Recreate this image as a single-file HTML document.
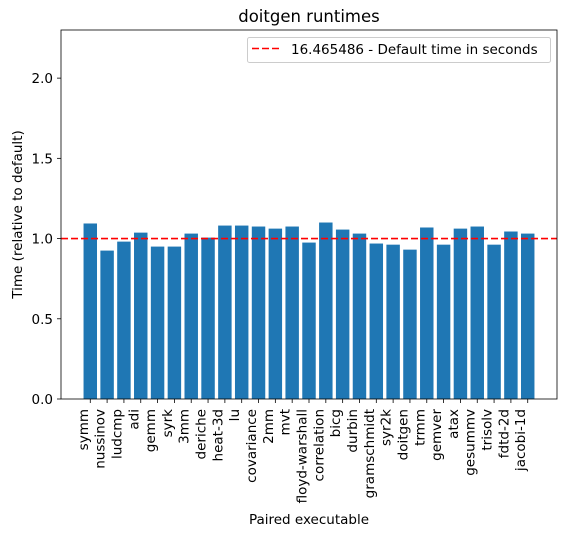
<!DOCTYPE html>
<html><head><meta charset="utf-8"><style>
body{margin:0;background:#fff}
svg text{font-family:"DejaVu Sans","Liberation Sans",sans-serif;fill:#000}
</style></head><body>
<svg id="chart" width="567" height="536" xmlns="http://www.w3.org/2000/svg">
<rect width="567" height="536" fill="#fff"/>
<g id="bars"></g>
<g id="axes"></g>
</svg>
<script>
const categories=["symm","nussinov","ludcmp","adi","gemm","syrk","3mm","deriche","heat-3d","lu","covariance","2mm","mvt","floyd-warshall","correlation","bicg","durbin","gramschmidt","syr2k","doitgen","trmm","gemver","atax","gesummv","trisolv","fdtd-2d","jacobi-1d"];
const values=[1.094,0.925,0.981,1.037,0.95,0.95,1.031,1.006,1.081,1.081,1.075,1.062,1.075,0.975,1.1,1.056,1.031,0.969,0.962,0.931,1.069,0.962,1.062,1.075,0.962,1.044,1.031];
const yTicks=[0.0,0.5,1.0,1.5,2.0];
const yTickLabels=["0.0","0.5","1.0","1.5","2.0"];
const refValue=1.0;
const legendLabel="16.465486 - Default time in seconds";

const NS="http://www.w3.org/2000/svg";
const L=61,R=557,T=30,B=399;
const xMin=-1.74,xMax=categories.length-1+1.74;
const yMax=2.3;
const xs=i=>L+(i-xMin)/(xMax-xMin)*(R-L);
const ys=v=>B-v/yMax*(B-T);
const bw=0.8*(R-L)/(xMax-xMin);
function mk(tag,attrs,parent,text){const e=document.createElementNS(NS,tag);for(const k in attrs)e.setAttribute(k,attrs[k]);if(text!==undefined)e.textContent=text;parent.appendChild(e);return e;}
const bars=document.getElementById('bars'),axes=document.getElementById('axes');
values.forEach((v,i)=>{
 const r=mk('rect',{x:xs(i)-bw/2,y:ys(v),width:bw,height:ys(0)-ys(v),fill:'#1f77b4'},bars);
 
 
 mk('line',{x1:xs(i),x2:xs(i),y1:B,y2:B+4,stroke:'#000','stroke-width':0.8},axes);
 const t=mk('text',{x:0,y:0,'font-size':13.5,'text-anchor':'end',transform:`translate(${xs(i)-2.5},${B+10}) rotate(-90)`},axes,categories[i]);
 
 
});
yTicks.forEach((v,i)=>{
 mk('line',{x1:L-4,x2:L,y1:ys(v),y2:ys(v),stroke:'#000','stroke-width':0.8},axes);
 const t=mk('text',{x:L-8,y:ys(v)+5,'font-size':13.5,'text-anchor':'end'},axes,yTickLabels[i]);
 
 
});
const ref=mk('line',{x1:L,x2:R,y1:ys(refValue),y2:ys(refValue),stroke:'#ff0000','stroke-width':1.6,'stroke-dasharray':'7,3'},axes);


const frame=mk('rect',{x:L,y:T,width:R-L,height:B-T,fill:'none',stroke:'#000','stroke-width':0.8},axes);


const title=mk('text',{x:(L+R)/2,y:22,'font-size':16.5,'text-anchor':'middle'},axes,'doitgen runtimes');


const xt=mk('text',{x:(L+R)/2,y:524,'font-size':13.5,'text-anchor':'middle'},axes,'Paired executable');


const yt=mk('text',{x:0,y:0,'font-size':13.5,'text-anchor':'middle',transform:`translate(22,${(T+B)/2}) rotate(-90)`},axes,'Time (relative to default)');


const lg=mk('g',{},axes);


mk('rect',{x:247.5,y:37.5,width:303,height:25,rx:2,fill:'#fff',stroke:'#ccc'},lg);
mk('line',{x1:252,x2:280,y1:48.5,y2:48.5,stroke:'#ff0000','stroke-width':1.6,'stroke-dasharray':'7,3'},lg);
const lt=mk('text',{x:291,y:54,'font-size':13.5},lg,legendLabel);


</script>
</body></html>
